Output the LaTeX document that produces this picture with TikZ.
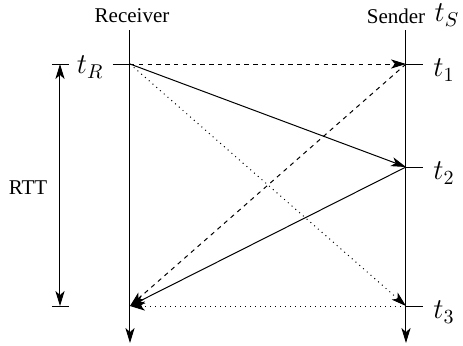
\documentclass[tikz,border=0pt]{standalone}
\usepackage{fontspec}
\setmainfont{Liberation Serif}
\usetikzlibrary{arrows.meta}
\begin{document}
\begin{tikzpicture}[x=0.5pt,y=-0.5pt,line width=0.5pt,
  tip/.style={-{Stealth[length=7.5pt,width=4.6pt,inset=2pt]}},
  dsh/.style={dash pattern=on 2.2pt off 2.2pt},
  lbl/.style={font=\Large,inner sep=0pt},
  txt/.style={font=\fontsize{10.5}{12}\selectfont,inner sep=0pt}]
\useasboundingbox (0,0) rectangle (463,345);
% axes
\coordinate (rtop) at (130,30);
\coordinate (rbot) at (130,343);
\coordinate (stop) at (406,30);
\coordinate (sbot) at (406,343);
\coordinate (R0) at (130,64);
\coordinate (R3) at (130,306);
\coordinate (S1) at (406,64);
\coordinate (S2) at (406,167);
\coordinate (S3) at (406,306);
\coordinate (tRa) at (113,64);
\coordinate (t1b) at (423,64);
\coordinate (t2b) at (423,167);
\coordinate (t3b) at (423,306);
\coordinate (Ra) at (60,64);
\coordinate (Rb) at (60,306);
\coordinate (Ra1) at (52,64);
\coordinate (Ra2) at (69,64);
\coordinate (Rb1) at (52,306);
\coordinate (Rb2) at (69,306);
\draw[tip] (rtop) -- (rbot);
\draw[tip] (stop) -- (sbot);
\node[txt] (recv) at (132,16) {Receiver};
\node[txt] (send) at (396,16) {Sender};
\node[lbl] (tS) at (447,15) {$t_S$};
% ticks
\draw (tRa) -- (R0);
\draw (S1) -- (t1b);
\draw (S2) -- (t2b);
\draw (S3) -- (t3b);
\node[lbl,anchor=east] (tR) at (104,67) {$t_R$};
\node[lbl,anchor=west] (t1) at (433,70) {$t_1$};
\node[lbl,anchor=west] (t2) at (433,173) {$t_2$};
\node[lbl,anchor=west] (t3) at (433,312) {$t_3$};
% RTT
\draw (Ra1) -- (Ra2);
\draw (Rb1) -- (Rb2);
\draw[{Stealth[length=7.5pt,width=4.6pt,inset=2pt]}-{Stealth[length=7.5pt,width=4.6pt,inset=2pt]}] (Ra) -- (Rb);
\node[txt] (rtt) at (28,188) {RTT};
% messages
\draw[tip,dsh] (R0) -- (S1);
\draw[tip] (R0) -- (S2);
\draw[tip,dotted] (R0) -- (S3);
\draw[tip,dsh] (S1) -- (R3);
\draw[tip] (S2) -- (R3);
\draw[tip,dotted] (S3) -- (R3);
\end{tikzpicture}
\end{document}
